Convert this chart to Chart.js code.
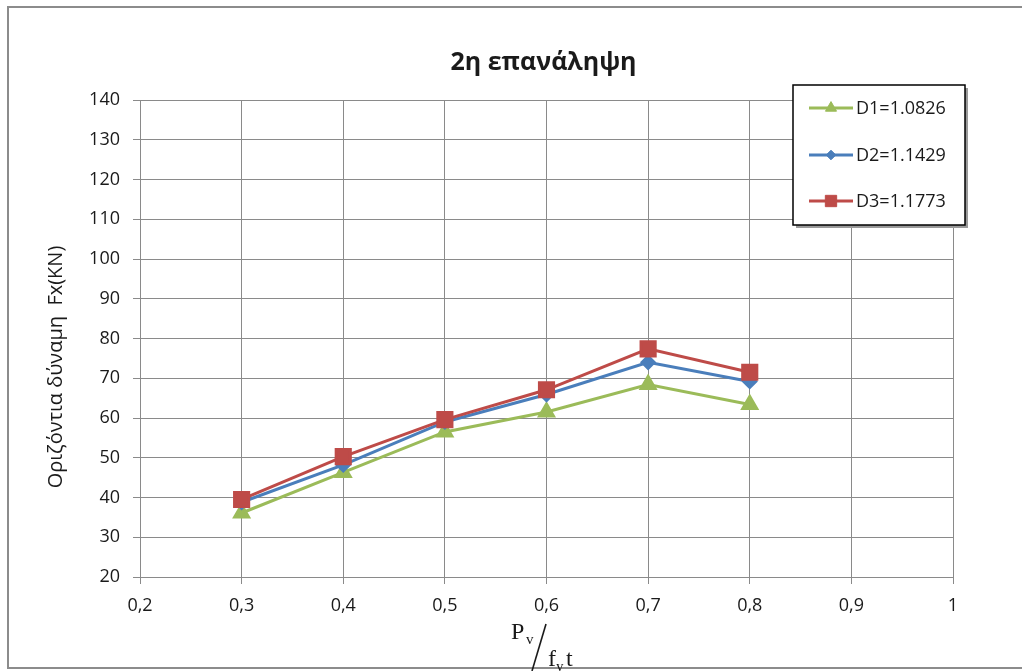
<!DOCTYPE html>
<html>
<head>
<meta charset="utf-8">
<script src="https://cdn.jsdelivr.net/npm/chart.js@4/dist/chart.umd.min.js"></script>
<style>
  html, body { margin: 0; padding: 0; background: #ffffff; }
  #wrap { width: 1022px; height: 671px; }
</style>
</head>
<body>
<div id="wrap"><canvas id="c" width="1022" height="671"></canvas></div>
<script>
// Load ratio P_v / (f_y t)
const ratios = [0.3, 0.4, 0.5, 0.6, 0.7, 0.8];
// Horizontal force Fx (kN) per specimen
const d1Values = [36.1, 46.3, 56.5, 61.5, 68.4, 63.4];
const d2Values = [38.8, 48.2, 59.0, 65.9, 74.0, 69.2];
const d3Values = [39.5, 50.3, 59.6, 67.1, 77.4, 71.5];
const seriesLabels = ['D1=1.0826', 'D2=1.1429', 'D3=1.1773'];
const chartTitle = '2η επανάληψη';
const yTitle = 'Οριζόντια δύναμη  Fx(KN)';

const GRID = '#8a8a8a';
const TXT = '#1a1a1a';

function pts(vals) { return ratios.map((r, i) => ({ x: r, y: vals[i] })); }

// Frame, title, axis titles and the boxed legend
const decor = {
  id: 'decor',
  beforeDraw(chart) {
    const ctx = chart.ctx;
    ctx.save();
    ctx.fillStyle = '#ffffff';
    ctx.fillRect(0, 0, chart.width, chart.height);
    ctx.strokeStyle = '#8c8c8c';
    ctx.lineWidth = 2;
    ctx.strokeRect(8, 7, chart.width + 20, 661);
    ctx.restore();
  },
  afterDraw(chart) {
    const ctx = chart.ctx;
    const area = chart.chartArea;
    ctx.save();
    // title
    ctx.fillStyle = TXT;
    ctx.font = 'bold 25px "Open Sans"';
    ctx.textAlign = 'center';
    ctx.textBaseline = 'middle';
    ctx.fillText(chartTitle, (area.left + area.right) / 2 - 3, 63);

    // y axis title
    ctx.save();
    ctx.translate(56, 367);
    ctx.rotate(-Math.PI / 2);
    ctx.font = '20px "Open Sans"';
    ctx.fillText(yTitle, 0, 0);
    ctx.restore();

    // x axis title: P_v / f_y t
    ctx.textAlign = 'left';
    ctx.textBaseline = 'alphabetic';
    ctx.font = '24px "Liberation Serif"';
    ctx.fillText('P', 511, 639);
    ctx.font = '15px "Liberation Serif"';
    ctx.fillText('v', 526, 644);
    ctx.strokeStyle = TXT;
    ctx.lineWidth = 1.6;
    ctx.beginPath();
    ctx.moveTo(532, 671);
    ctx.lineTo(546, 624);
    ctx.stroke();
    ctx.font = '24px "Liberation Serif"';
    ctx.fillText('f', 548, 666);
    ctx.font = '15px "Liberation Serif"';
    ctx.fillText('y', 556, 671);
    ctx.font = '24px "Liberation Serif"';
    ctx.fillText('t', 566, 666);

    // legend box
    const bx = 793, by = 85, bw = 172, bh = 140;
    ctx.fillStyle = '#9a9a9a';
    ctx.fillRect(bx + 3, by + 3, bw, bh);
    ctx.fillStyle = '#ffffff';
    ctx.fillRect(bx, by, bw, bh);
    ctx.strokeStyle = '#000000';
    ctx.lineWidth = 1.5;
    ctx.strokeRect(bx, by, bw, bh);
    const rows = [108, 155, 201];
    ctx.font = '18px "Open Sans"';
    ctx.textBaseline = 'middle';
    seriesLabels.forEach((lab, i) => {
      const ds = chart.data.datasets[i];
      const y = rows[i];
      ctx.strokeStyle = ds.borderColor;
      ctx.fillStyle = ds.borderColor;
      ctx.lineWidth = 3;
      ctx.beginPath();
      ctx.moveTo(809, y);
      ctx.lineTo(853, y);
      ctx.stroke();
      ctx.lineWidth = 1;
      Chart.helpers.drawPoint(ctx, {
        pointStyle: ds.pointStyle,
        radius: ds.pointRadius * 0.8,
        borderWidth: 1,
        rotation: 0
      }, 831, y);
      ctx.fillStyle = TXT;
      ctx.fillText(lab, 856, y + 1);
    });
    ctx.restore();
  }
};

function series(label, vals, color, style, radius, order) {
  return {
    label, data: pts(vals), borderColor: color, backgroundColor: color,
    pointBackgroundColor: color, pointBorderColor: color,
    borderWidth: 3, pointStyle: style, pointRadius: radius, pointHoverRadius: radius,
    order, tension: 0
  };
}

new Chart(document.getElementById('c'), {
  type: 'line',
  data: {
    datasets: [
      series(seriesLabels[0], d1Values, '#9BBB59', 'triangle', 8, 2),
      series(seriesLabels[1], d2Values, '#4A7EBB', 'rectRot', 6, 1),
      series(seriesLabels[2], d3Values, '#BE4B48', 'rect', 10, 0)
    ]
  },
  options: {
    responsive: false,
    animation: false,
    layout: { padding: { left: 8, top: 100, right: 69, bottom: 0 } },
    plugins: { legend: { display: false }, title: { display: false }, tooltip: { enabled: false } },
    scales: {
      x: {
        type: 'linear', min: 0.2, max: 1,
        afterFit(s) { s.height = 94; },
        border: { color: GRID, width: 1 },
        grid: { color: GRID, lineWidth: 1, tickLength: 7 },
        ticks: {
          stepSize: 0.1, padding: 11, color: TXT,
          font: { family: 'Open Sans', size: 18 },
          callback: v => String(Math.round(v * 10) / 10).replace('.', ',')
        }
      },
      y: {
        min: 20, max: 140,
        afterFit(s) { s.width = 132; },
        border: { color: GRID, width: 1 },
        grid: { color: GRID, lineWidth: 1, tickLength: 7 },
        ticks: {
          stepSize: 10, padding: 13, color: TXT,
          font: { family: 'Open Sans', size: 18 }
        }
      }
    }
  },
  plugins: [decor]
});
</script>
</body>
</html>
